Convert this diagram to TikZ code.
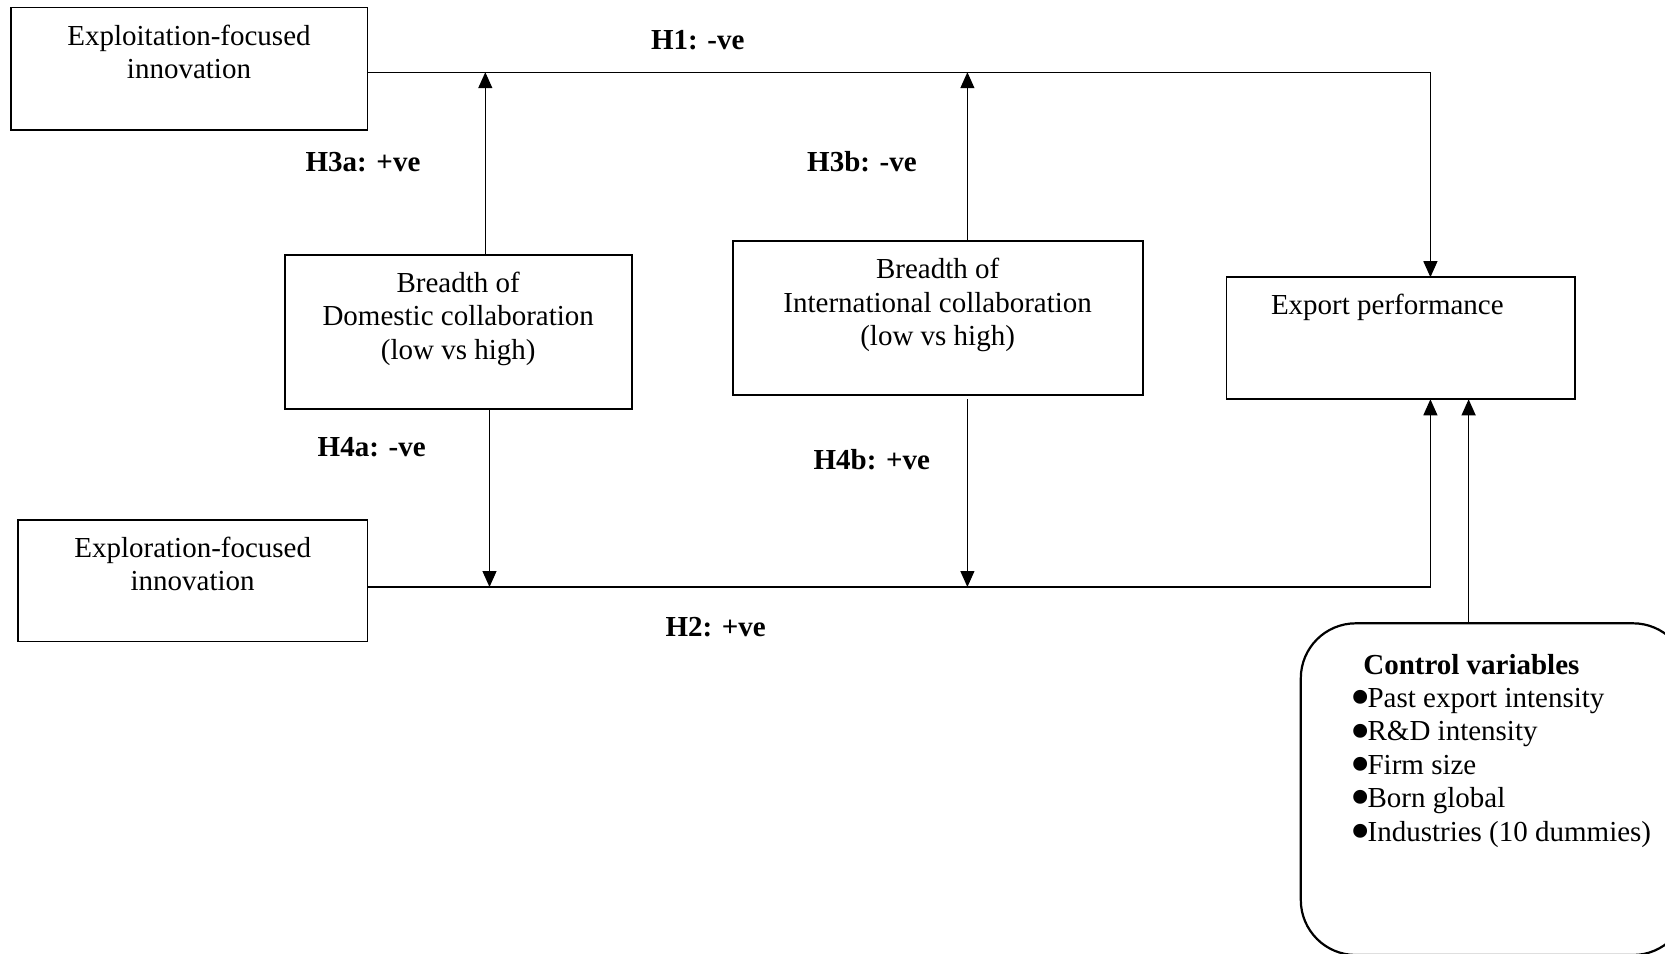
\documentclass[tikz,border=0pt]{standalone}
\usepackage{fontspec}
\setmainfont{Liberation Serif}
\usetikzlibrary{arrows.meta}
\newcommand\mkbox[4]{\parbox[c][#2][t]{#1}{\centering\rule{0pt}{#3}#4}}
\newcommand\cvb{\hspace*{-2pt}\raisebox{-9.3pt}{\scalebox{2.0}{\textbullet}}\hspace{-3.5pt}}
\tikzset{
  txt/.style={font=\fontsize{29}{33.4}\selectfont},
  boxst/.style={txt, draw, line width=1.8pt, inner sep=0pt, outer sep=0pt},
  lbl/.style={font=\fontsize{29}{33.4}\selectfont\bfseries, inner sep=0pt, anchor=base},
  conn/.style={line width=1.2pt},
  tip/.style={-{Triangle[width=14pt,length=16pt]}}
}
\begin{document}
\begin{tikzpicture}[x=1pt,y=-1pt]
\useasboundingbox (0,0) rectangle (1665,953);
\clip (0,0) rectangle (1665,953);
\fill[white] (0,0) rectangle (1665,953);
% boxes
\node[boxst] (exploit) at (189,68.5) {\mkbox{356.8pt}{122.2pt}{38pt}{Exploitation-focused\\innovation}};
\node[boxst] (explor) at (192.7,580.85) {\mkbox{349.4pt}{121.1pt}{36.7pt}{Exploration-focused\\innovation}};
\node[boxst] (dom) at (458.2,331.85) {\mkbox{347.2pt}{153.9pt}{37.6pt}{Breadth of\\Domestic collaboration\\(low vs high)}};
\node[boxst] (intl) at (937.65,318) {\mkbox{409.9pt}{154pt}{37.7pt}{Breadth of\\International collaboration\\(low vs high)}};
\node[boxst] (export) at (1400.65,338.25) {\parbox[c][122.1pt][t]{348.3pt}{\raggedright\hspace*{44.5pt}\rule{0pt}{37.6pt}Export performance}};
\node[boxst, rounded corners=55pt, line width=2.2pt] (ctrl) at (1494.4,789.15) {\parbox[c][331.7pt][t]{387.2pt}{\raggedright\rule{0pt}{50.7pt}\hspace*{62.5pt}\textbf{Control variables}\\
\hspace*{52pt}\cvb Past export intensity\\
\hspace*{52pt}\cvb R\&D intensity\\
\hspace*{52pt}\cvb Firm size\\
\hspace*{52pt}\cvb Born global\\
\hspace*{52pt}\cvb Industries (10 dummies)}};
% coordinates
\coordinate (h1c) at (1430.4,72.2);
\coordinate (h2c) at (1430.4,587);
\coordinate (m3a) at (485.3,72.2);
\coordinate (m3b) at (967.4,72.2);
\coordinate (m4a) at (489.5,587);
\coordinate (m4b) at (967.4,587);
\coordinate (cv) at (1468.6,0);
\coordinate (i4s) at ([yshift=-4.3pt]intl.south);
% connectors
\draw[conn,tip] (exploit.east |- h1c) -- (h1c) -- (export.north -| h1c);
\draw[conn,tip] (explor.east |- h2c) -- (h2c) -- (export.south -| h2c);
\draw[conn,tip] (dom.north -| m3a) -- (m3a);
\draw[conn,tip] (intl.north -| m3b) -- (m3b);
\draw[conn,tip] (dom.south -| m4a) -- (m4a);
\draw[conn,tip] (i4s -| m4b) -- (m4b);
\draw[conn,tip] (ctrl.north -| cv) -- (export.south -| cv);
% labels
\node[lbl] (l1) at (697.7,49) {H1: -ve};
\node[lbl] (l3a) at (363,171.7) {H3a: +ve};
\node[lbl] (l3b) at (862,171.7) {H3b: -ve};
\node[lbl] (l4a) at (371.7,456.5) {H4a: -ve};
\node[lbl] (l4b) at (871.8,469.3) {H4b: +ve};
\node[lbl] (l2) at (715.7,636) {H2: +ve};
\end{tikzpicture}
\end{document}
